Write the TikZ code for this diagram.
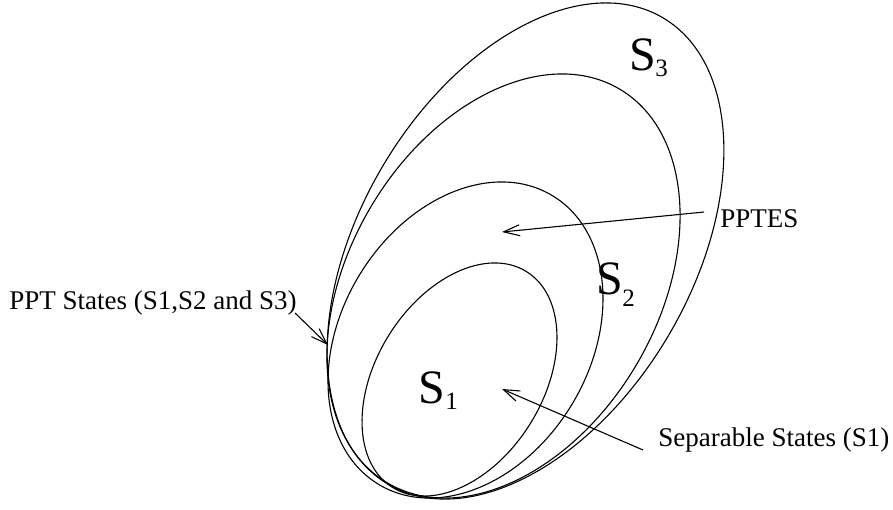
\documentclass[tikz,border=0pt]{standalone}
\usepackage{fontspec}
\setmainfont{Liberation Serif}
\usetikzlibrary{arrows.meta}
\begin{document}
\begin{tikzpicture}[x=0.5pt,y=0.5pt,
  curve/.style={line width=0.55pt},
  pointer/.style={line width=0.55pt,-{Straight Barb[length=8pt,width=5.5pt]}},
  lab/.style={inner sep=0pt,anchor=base west,font=\fontsize{13.5}{15}\selectfont},
  bigS/.style={inner sep=0pt,anchor=base west,font=\fontsize{24}{26}\selectfont},
  subS/.style={inner sep=0pt,anchor=base west,font=\fontsize{12.5}{14}\selectfont}]
\useasboundingbox (0,0) rectangle (893,-509);
% nested sets
\draw[curve] (525.5,-251) ellipse [x radius=135.35pt, y radius=83.05pt, rotate=59.5];
\draw[curve] (503.5,-286) ellipse [x radius=114.3pt, y radius=77.25pt, rotate=59.5];
\draw[curve] (465.5,-340) ellipse [x radius=84.25pt, y radius=62.2pt, rotate=59];
\draw[curve] (459.5,-379.5) ellipse [x radius=63.5pt, y radius=41.7pt, rotate=58.2];
% set names
\node[bigS] (s1) at (418,-403) {S};
\node[subS] (s1i) at (445,-409) {1};
\node[bigS] (s2) at (596,-294) {S};
\node[subS] (s2i) at (622,-306) {2};
\node[bigS] (s3) at (629,-70) {S};
\node[subS] (s3i) at (655,-76) {3};
% labels
\node[lab] (ppt) at (9,-309) {PPT States (S1,S2 and S3)};
\node[lab] (pptes) at (720,-227) {PPTES};
\node[lab] (sep) at (658,-446) {Separable States (S1)};
% arrows
\coordinate (pptA) at (295,-313);
\coordinate (pptB) at (328,-345);
\coordinate (pptesA) at (704,-212);
\coordinate (pptesB) at (502,-232);
\coordinate (sepA) at (643,-450);
\coordinate (sepB) at (502,-389);
\draw[pointer] (pptA) -- (pptB);
\draw[pointer] (pptesA) -- (pptesB);
\draw[pointer] (sepA) -- (sepB);
\end{tikzpicture}
\end{document}
